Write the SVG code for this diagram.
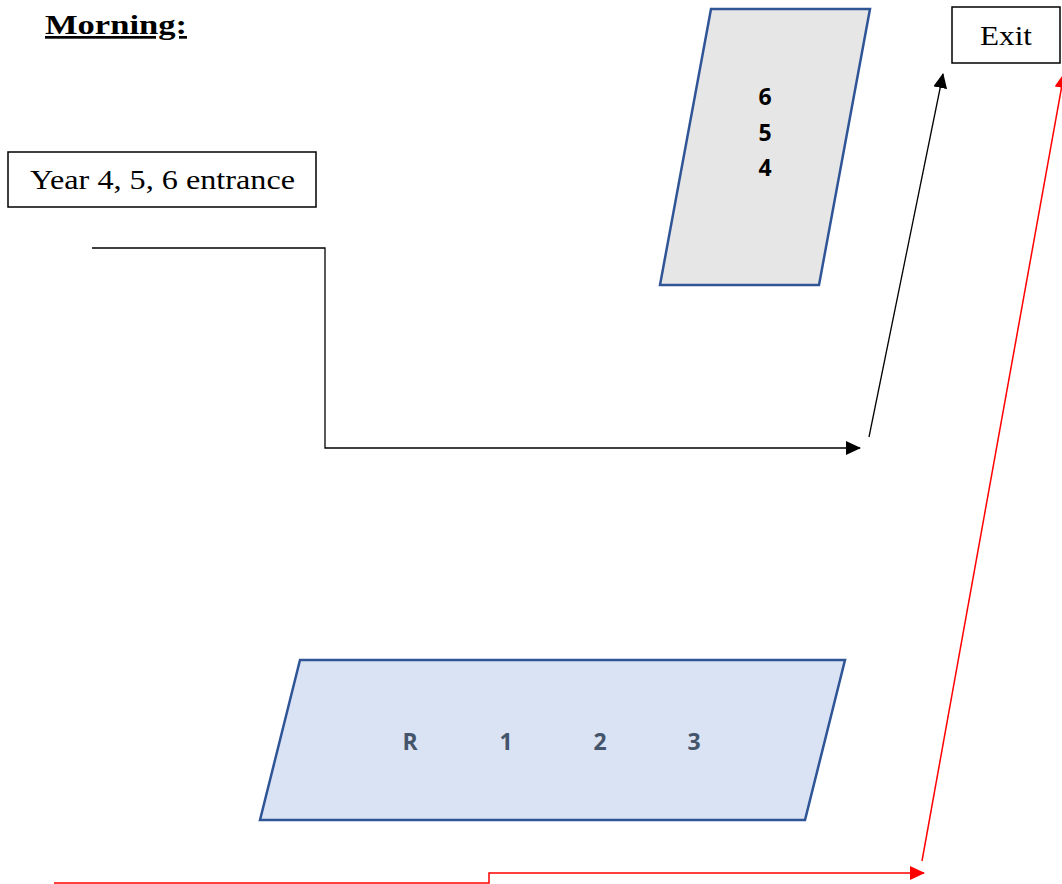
<svg xmlns="http://www.w3.org/2000/svg" width="1062" height="884" viewBox="0 0 1062 884">
<defs>
<style>
.box{fill:#fff;stroke:#000;stroke-width:1.5}
.serif{font-family:"Liberation Serif","DejaVu Serif",serif;fill:#000}
.para{stroke:#2f5597;stroke-width:2.5}
.num{font-family:"Open Sans","Liberation Sans",sans-serif;font-weight:bold;font-size:23px}
.blk{fill:none;stroke:#000;stroke-width:1.3}
.red{fill:none;stroke:#ff0000;stroke-width:1.5}
</style>
<marker id="ab" markerWidth="15" markerHeight="14" viewBox="0 0 15 14" refX="14" refY="7" orient="auto" markerUnits="userSpaceOnUse">
<path d="M0,0 L15,7 L0,14 Z" fill="#000"/>
</marker>
<marker id="ar" markerWidth="15" markerHeight="14" viewBox="0 0 15 14" refX="14" refY="7" orient="auto" markerUnits="userSpaceOnUse">
<path d="M0,0 L15,7 L0,14 Z" fill="#ff0000"/>
</marker>
</defs>
<rect width="1062" height="884" fill="#fff"/>
<g id="title">
<text x="45" y="34" class="serif" font-size="27" font-weight="bold" text-decoration="underline" textLength="142" lengthAdjust="spacingAndGlyphs">Morning:</text>
</g>
<g id="entrance">
<rect class="box" x="8" y="152" width="308" height="55"/>
<text x="30" y="189" class="serif" font-size="27" textLength="265" lengthAdjust="spacingAndGlyphs">Year 4, 5, 6 entrance</text>
</g>
<g id="exit">
<rect class="box" x="952" y="7" width="108" height="56"/>
<text x="980" y="45" class="serif" font-size="27" textLength="52" lengthAdjust="spacingAndGlyphs">Exit</text>
</g>
<g id="block-upper">
<polygon class="para" points="711,9 870,9 819,285 660,285" fill="#e7e6e6"/>
<text class="num" x="765" y="105" text-anchor="middle" fill="#000">6</text>
<text class="num" x="765" y="141" text-anchor="middle" fill="#000">5</text>
<text class="num" x="765" y="176" text-anchor="middle" fill="#000">4</text>
</g>
<g id="block-lower">
<polygon class="para" points="300,660 845,660 805,820 260,820" fill="#dae3f3"/>
<text class="num" x="410" y="750" text-anchor="middle" fill="#44546a">R</text>
<text class="num" x="506" y="750" text-anchor="middle" fill="#44546a">1</text>
<text class="num" x="600" y="750" text-anchor="middle" fill="#44546a">2</text>
<text class="num" x="694" y="750" text-anchor="middle" fill="#44546a">3</text>
</g>
<g id="connectors">
<polyline class="blk" points="92,248 325,248 325,448 860,448" marker-end="url(#ab)"/>
<line class="blk" x1="869" y1="437" x2="943" y2="74" marker-end="url(#ab)"/>
<polyline class="red" points="54,883 489,883 489,873 924,873" marker-end="url(#ar)"/>
<line class="red" x1="922" y1="861" x2="1064" y2="74" marker-end="url(#ar)"/>
</g>
</svg>
